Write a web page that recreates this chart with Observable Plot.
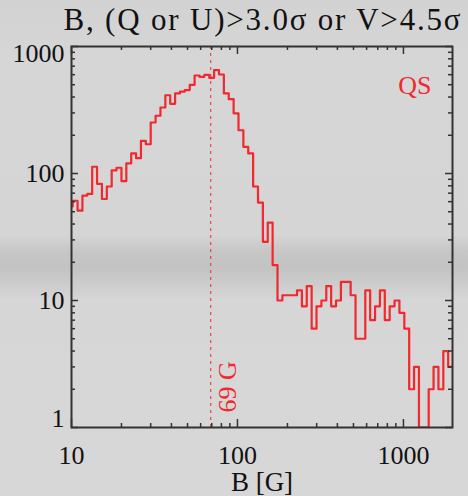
<!DOCTYPE html>
<html>
<head>
<meta charset="utf-8">
<script src="https://cdn.jsdelivr.net/npm/d3@7"></script>
<script src="https://cdn.jsdelivr.net/npm/@observablehq/plot@0.6"></script>
<style>
  html, body { margin: 0; padding: 0; }
  body {
    width: 468px; height: 496px; overflow: hidden;
    background: linear-gradient(to bottom, #d2d2d2 0px, #d6d6d6 60px, #d5d5d5 235px, #c6c6c6 252px, #c3c3c3 268px, #cbcbcb 282px, #d6d6d6 300px, #d7d7d7 496px);
  }
  svg { display: block; }
</style>
</head>
<body>
<div id="chart"></div>
<script>
// Histogram of B (log bins, each bin ratio 1.07), counts
const binStart = 9.5;      // lower edge of the first (mostly clipped) bin, in G
const binRatio = 1.07;     // multiplicative bin width
const counts = [55, 61, 51, 67, 69, 113, 83, 63, 79, 106, 111, 87, 120, 144, 132, 181, 170,
  252, 285, 331, 413, 354, 427, 442, 454, 499, 591, 577, 597, 567, 652, 602, 427, 385,
  298, 219, 162, 144, 79, 59, 29, 41, 19, 10, 11, 11, 11, 12, 9, 13, 6, 9, 10, 13, 9,
  10, 14, 14, 11, 5, 5, 12, 7, 9, 12, 7, 9, 10, 8, 6, 2, 3, 1, 1, 2, 3, 2, 4, 3, 1];
const peakB = 69;
const xMajor = [10, 100, 1000];
const xMinor = [20, 30, 40, 50, 60, 70, 80, 90, 200, 300, 400, 500, 600, 700, 800, 900];
const yMajor = [1, 10, 100, 1000];
const yMinor = [2, 3, 4, 5, 6, 7, 8, 9, 20, 30, 40, 50, 60, 70, 80, 90, 200, 300, 400, 500, 600, 700, 800, 900];
const title = "B, (Q or U)>3.0σ or V>4.5σ";
const xLabel = "B [G]";
const regionLabel = "QS";

const hist = counts.map((c, i) => ({B: binStart * Math.pow(binRatio, i), n: c}));

const W = 468, H = 496;
const mL = 71, mR = 16, mT = 46, mB = 69;
const fh = H - mT - mB;
const fw = W - mL - mR;
const red = "#f2282e";
const ink = "#333";

const chart = Plot.plot({
  width: W, height: H,
  marginLeft: mL, marginRight: mR, marginTop: mT, marginBottom: mB,
  style: {background: "transparent", fontFamily: "'Liberation Serif', 'Times New Roman', serif", color: "#111"},
  x: {type: "log", domain: [10, 1975], axis: null},
  y: {type: "log", domain: [1, 1000], axis: null},
  marks: [
    Plot.ruleX([peakB], {x: d => d, stroke: red, strokeWidth: 1, strokeDasharray: "3,4"}),
    Plot.line(hist, {x: "B", y: "n", curve: "step-after", stroke: red, strokeWidth: 2.2, clip: true}),
    Plot.frame({stroke: ink, strokeWidth: 2}),
    Plot.tickX(xMajor, {x: d => d, insetTop: fh - 8, stroke: ink, strokeWidth: 1.5}),
    Plot.tickX(xMinor, {x: d => d, insetTop: fh - 4, stroke: ink, strokeWidth: 1.5}),
    Plot.tickX(xMajor, {x: d => d, insetBottom: fh - 8, stroke: ink, strokeWidth: 1.5}),
    Plot.tickX(xMinor, {x: d => d, insetBottom: fh - 4, stroke: ink, strokeWidth: 1.5}),
    Plot.tickY(yMajor, {y: d => d, insetRight: fw - 7, stroke: ink, strokeWidth: 1.5}),
    Plot.tickY(yMinor, {y: d => d, insetRight: fw - 4, stroke: ink, strokeWidth: 1.5}),
    Plot.tickY(yMajor, {y: d => d, insetLeft: fw - 7, stroke: ink, strokeWidth: 1.5}),
    Plot.tickY(yMinor, {y: d => d, insetLeft: fw - 4, stroke: ink, strokeWidth: 1.5}),
    Plot.axisX({ticks: xMajor, tickSize: 0, tickPadding: 18, fontSize: 26, tickFormat: d => String(d), label: null, fill: "#111"}),
    Plot.axisY({ticks: [10, 100], tickSize: 0, tickPadding: 7, fontSize: 26, tickFormat: d => String(d), label: null, fill: "#111"}),
    Plot.axisY({ticks: [1], tickSize: 0, tickPadding: 7, fontSize: 26, tickFormat: d => String(d), label: null, dy: -9, fill: "#111"}),
    Plot.axisY({ticks: [1000], tickSize: 0, tickPadding: 7, fontSize: 26, tickFormat: d => String(d), label: null, dy: 7, fill: "#111"}),
    Plot.text([title], {text: d => d, frameAnchor: "top", dy: -16.7, lineAnchor: "bottom", fontSize: 31, fill: "#111"}),
    Plot.text([xLabel], {text: d => d, frameAnchor: "bottom", dy: 63, lineAnchor: "bottom", fontSize: 27, fill: "#111"}),
    Plot.text([regionLabel], {text: d => d, frameAnchor: "top-right", dx: -21, dy: 47, textAnchor: "end", lineAnchor: "bottom", fontSize: 26, fill: red}),
    Plot.text([peakB], {x: d => d, text: d => `${d} G`, frameAnchor: "bottom", dy: -15, dx: 25, rotate: -90, textAnchor: "start", lineAnchor: "bottom", fontSize: 26, fill: red})
  ]
});
// widen the title's letter spacing to match the reference's type
d3.select(chart).selectAll("text").filter(function () { return this.textContent === title; })
  .style("letter-spacing", "1.8px").attr("dx", "0.9px");
document.getElementById("chart").appendChild(chart);
</script>
</body>
</html>
